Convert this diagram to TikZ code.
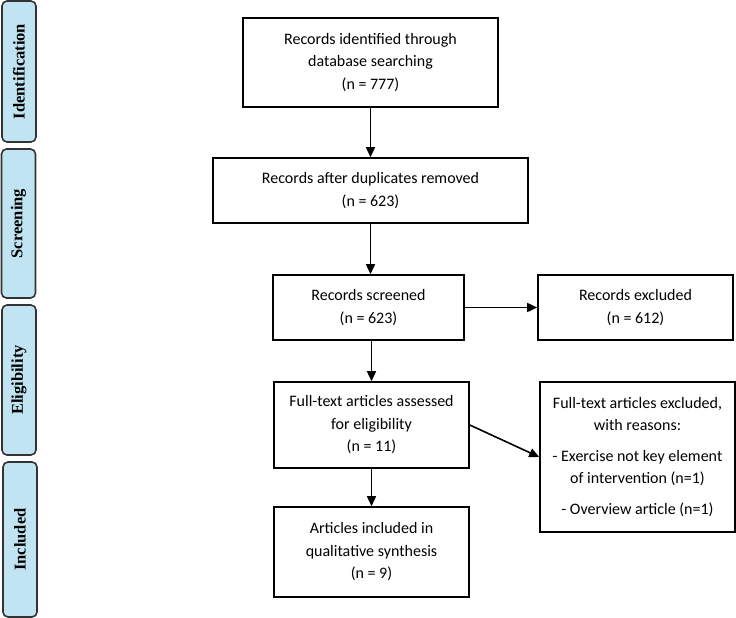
\documentclass[tikz,border=0pt]{standalone}
\usepackage{fontspec}
\setmainfont{Carlito}
\newfontfamily\phasefont{Liberation Serif}
\usetikzlibrary{arrows.meta,positioning}
\definecolor{phaseblue}{RGB}{192,228,242}
\tikzstyle{arrow} = [line width=1.6pt,-{Triangle[length=10pt,width=9pt]}]
\tikzset{box/.style={rectangle,draw,line width=1.6pt,align=center,font=\fontsize{16}{22.5}\selectfont,inner sep=2pt},phase/.style={rectangle,rounded corners=5pt,draw=black!80,line width=1.6pt,fill=phaseblue,rotate=90,minimum height=34pt,font=\phasefont\fontsize{16.5}{20}\selectfont\bfseries}}

\begin{document}
\begin{tikzpicture}[x=1pt,y=-1pt]
    \useasboundingbox (0,0) rectangle (736,618);

    \node [phase, minimum width=141pt] (identification) at (19,71.5) {Identification};
    \node [phase, minimum width=149pt] (screening) at (18.5,223.5) {Screening};
    \node [phase, minimum width=150pt] (eligibility) at (19,380) {Eligibility};
    \node [phase, minimum width=155pt] (included) at (20,539.5) {Included};

    \node [box, minimum width=255pt, minimum height=89pt] (identified) at (370.5,62.5) {Records identified through\\database searching\\(n = 777)};
    \node [box, minimum width=315pt, minimum height=65pt] (duplicates) at (370.5,190.5) {Records after duplicates removed\\(n = 623)};
    \node [box, minimum width=191pt, minimum height=65pt] (screened) at (368.5,307.5) {Records screened\\(n = 623)};
    \node [box, minimum width=195pt, minimum height=65pt] (excluded) at (635.5,307.5) {Records excluded\\(n = 612)};
    \node [box, minimum width=195pt, minimum height=86pt] (fulltext) at (371.5,425) {Full-text articles assessed\\for eligibility\\(n = 11)};
    \node [box, minimum width=195pt, minimum height=150pt] (reasons) at (637.5,457) {Full-text articles excluded,\\with reasons:\\[8pt]- Exercise not key element\\of intervention (n=1)\\[8pt]- Overview article (n=1)};
    \node [box, minimum width=195pt, minimum height=90pt] (synthesis) at (371.5,552) {Articles included in\\qualitative synthesis\\(n = 9)};

    \draw [arrow] (identified) -- (duplicates);
    \draw [arrow] (duplicates) -- (duplicates |- screened.north);
    \draw [arrow] (screened) -- (excluded);
    \draw [arrow] (screened.south -| fulltext) -- (fulltext);
    \draw [arrow] (fulltext.east) -- (reasons.west);
    \draw [arrow] (fulltext) -- (synthesis);
\end{tikzpicture}
\end{document}
